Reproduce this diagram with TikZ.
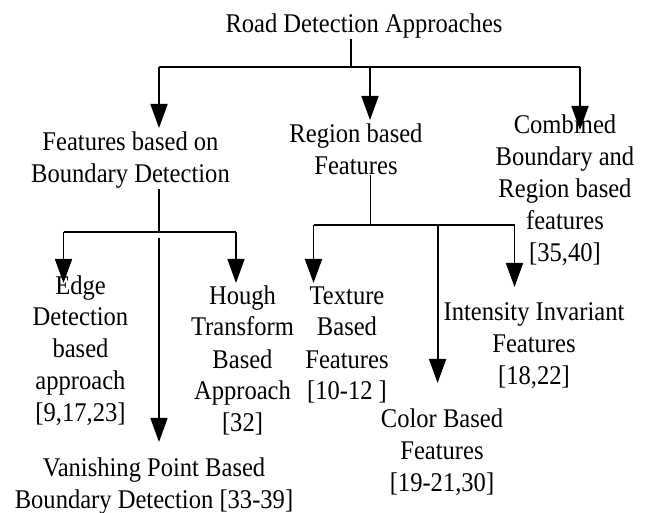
\documentclass[tikz,border=0pt]{standalone}
\usepackage{fontspec}
\setmainfont{Liberation Serif}[FakeStretch=0.91]
\usetikzlibrary{arrows.meta}
\begin{document}
\begin{tikzpicture}[x=1pt,y=-1pt,
  lbl/.style={font=\fontsize{27}{32}\selectfont, align=center, inner sep=0pt, anchor=base},
  ln/.style={line width=1.8pt},
  arr/.style={ln, -{Triangle[length=24pt,width=17pt]}}]
\useasboundingbox (0,0) rectangle (649,513);
% nodes (placed at the baseline of their last line)
\node[lbl] (title) at (364,33) {Road Detection Approaches};
\node[lbl] (fb) at (130.5,183) {Features based on\\Boundary Detection};
\node[lbl] (rb) at (356,175) {Region based\\Features};
\node[lbl] (cb) at (565,262) {Combined\\Boundary and\\Region based\\features\\{[35,40]}};
\node[lbl] (edge) at (80.5,422) {Edge\\Detection\\based\\approach\\{[9,17,23]}};
\node[lbl] (hough) at (242.5,432) {Hough\\Transform\\Based\\Approach\\{[32]}};
\node[lbl] (tex) at (347,400) {Texture\\Based\\Features\\{[10-12 ]}};
\node[lbl] (color) at (442,492) {Color Based\\Features\\{[19-21,30]}};
\node[lbl] (inten) at (534,385) {Intensity Invariant\\Features\\{[18,22]}};
\node[lbl] (van) at (154,508) {Vanishing Point Based\\Boundary Detection [33-39]};
% junctions and arrow tips
\coordinate (t0) at (351,67);
\coordinate (a1) at (159,67);
\coordinate (a2) at (370,67);
\coordinate (a3) at (580,67);
\coordinate (fbtip) at (159,128);
\coordinate (rbtip) at (370,120);
\coordinate (cbtip) at (580,130);
\coordinate (b0) at (159,232);
\coordinate (b1) at (63.5,232);
\coordinate (b3) at (236,232);
\coordinate (bv) at (159,238);
\coordinate (edgetip) at (63.5,283);
\coordinate (houghtip) at (236,283);
\coordinate (vantip) at (159,442);
\coordinate (r0) at (370.5,225);
\coordinate (r1) at (313.5,225);
\coordinate (r2) at (437.6,225);
\coordinate (r3) at (514.5,225);
\coordinate (textip) at (313.5,283);
\coordinate (colortip) at (437.6,383);
\coordinate (intentip) at (514.5,287);
% connectors
\draw[ln] (title.south -| t0) -- (t0);
\draw[ln] (a1) -- (a3);
\draw[arr] (a1) -- (fbtip);
\draw[arr] (a2) -- (rbtip);
\draw[arr] (a3) -- (cbtip);
\draw[ln] (fb.south -| b0) -- (b0);
\draw[ln] (b1) -- (b3);
\draw[arr] (b1) -- (edgetip);
\draw[arr] (b3) -- (houghtip);
\draw[arr] (bv) -- (vantip);
\draw[ln] (rb.south -| r0) -- (r0);
\draw[ln] (r1) -- (r3);
\draw[arr] (r1) -- (textip);
\draw[arr] (r2) -- (colortip);
\draw[arr] (r3) -- (intentip);
\end{tikzpicture}
\end{document}
